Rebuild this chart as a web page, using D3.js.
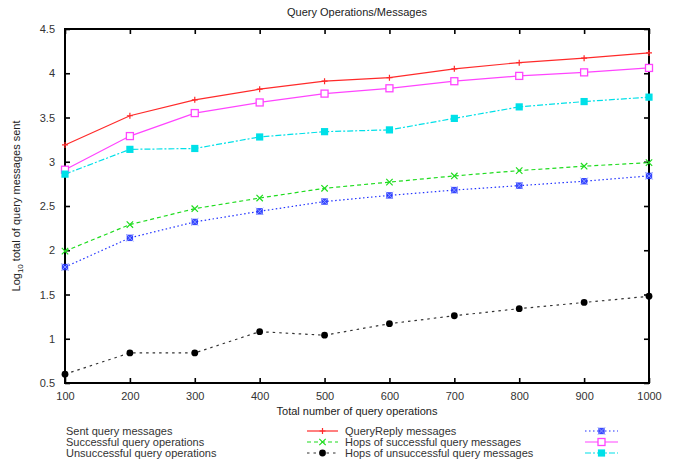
<!DOCTYPE html>
<html>
<head>
<meta charset="utf-8">
<script src="https://cdn.jsdelivr.net/npm/d3@7"></script>
<style>
  html, body { margin: 0; padding: 0; background: #fff; }
  svg { display: block; font-family: "Liberation Sans", Arial, sans-serif; }
</style>
</head>
<body>
<svg id="chart" width="685" height="464"></svg>
<script>
// Number of query operations (x axis)
const operations = [100, 200, 300, 400, 500, 600, 700, 800, 900, 1000];

// log10 of message / operation totals per series
const sentQuery       = [3.19, 3.52, 3.70, 3.82, 3.91, 3.95, 4.05, 4.12, 4.17, 4.23];
const successfulOps   = [1.99, 2.29, 2.47, 2.59, 2.70, 2.77, 2.84, 2.90, 2.95, 2.99];
const unsuccessfulOps = [0.60, 0.84, 0.84, 1.08, 1.04, 1.17, 1.26, 1.34, 1.41, 1.48];
const queryReply      = [1.81, 2.14, 2.32, 2.44, 2.55, 2.62, 2.68, 2.73, 2.78, 2.84];
const hopsSuccessful  = [2.91, 3.29, 3.55, 3.67, 3.77, 3.83, 3.91, 3.97, 4.01, 4.06];
const hopsUnsuccessful= [2.86, 3.14, 3.15, 3.28, 3.34, 3.36, 3.49, 3.62, 3.68, 3.73];

const seriesNames = [
  "Sent query messages",
  "Successful query operations",
  "Unsuccessful query operations",
  "QueryReply messages",
  "Hops of successful query messages",
  "Hops of unsuccessful query messages"
];

const yTicks = [0.5, 1, 1.5, 2, 2.5, 3, 3.5, 4, 4.5];
const xTicks = operations;

const series = [
  { name: seriesNames[0], values: sentQuery,        color: "#ff2a2a", dash: null,          marker: "plus" },
  { name: seriesNames[1], values: successfulOps,    color: "#1fdc1f", dash: "4,3",         marker: "cross" },
  { name: seriesNames[2], values: unsuccessfulOps,  color: "#333333", dash: "2.5,4",       marker: "circle" },
  { name: seriesNames[3], values: queryReply,       color: "#2233ff", dash: "1.5,2.5",     marker: "boxcross" },
  { name: seriesNames[4], values: hopsSuccessful,   color: "#ff44ff", dash: null,          marker: "square" },
  { name: seriesNames[5], values: hopsUnsuccessful, color: "#00e0e8", dash: "6,2,2,2",     marker: "fillsquare" }
];

const svg = d3.select("#chart");
const W = 685, H = 464;
const m = { left: 65, right: 36, top: 29, bottom: 81 };

const x = d3.scaleLinear().domain([100, 1000]).range([m.left, W - m.right]);
const y = d3.scaleLinear().domain([0.5, 4.5]).range([H - m.bottom, m.top]);

// Title
svg.append("text")
  .attr("x", (m.left + W - m.right) / 2).attr("y", 16)
  .attr("text-anchor", "middle").attr("font-size", 11).attr("fill", "#222")
  .text("Query Operations/Messages");

// Axes with inward ticks, mirrored on top and right
const axisStyle = g => {
  g.select(".domain").remove();
  g.selectAll(".tick line").attr("stroke", "#000").attr("stroke-width", 1.6);
  g.selectAll(".tick text").attr("font-size", 11).attr("fill", "#333")
    .attr("font-family", "\"Liberation Sans\", Arial, sans-serif");
};

svg.append("g")
  .attr("transform", `translate(0,${H - m.bottom})`)
  .call(d3.axisBottom(x).tickValues(xTicks).tickSize(-5).tickPadding(9).tickFormat(d3.format("d")))
  .call(axisStyle);

svg.append("g")
  .attr("transform", `translate(0,${m.top})`)
  .call(d3.axisTop(x).tickValues(xTicks).tickSize(-5).tickFormat(""))
  .call(axisStyle);

svg.append("g")
  .attr("transform", `translate(${m.left},0)`)
  .call(d3.axisLeft(y).tickValues(yTicks).tickSize(-5).tickPadding(10).tickFormat(d => String(d)))
  .call(axisStyle);

svg.append("g")
  .attr("transform", `translate(${W - m.right},0)`)
  .call(d3.axisRight(y).tickValues(yTicks).tickSize(-5).tickFormat(""))
  .call(axisStyle);

// Frame
svg.append("rect")
  .attr("x", m.left).attr("y", m.top)
  .attr("width", W - m.right - m.left).attr("height", H - m.bottom - m.top)
  .attr("fill", "none").attr("stroke", "#000").attr("stroke-width", 2);

// Axis titles
svg.append("text")
  .attr("x", (m.left + W - m.right) / 2).attr("y", 415)
  .attr("text-anchor", "middle").attr("font-size", 11).attr("fill", "#222")
  .text("Total number of query operations");

const yLab = svg.append("text")
  .attr("transform", `translate(20,${(m.top + H - m.bottom) / 2}) rotate(-90)`)
  .attr("text-anchor", "middle").attr("font-size", 11).attr("fill", "#222");
yLab.append("tspan").text("Log");
yLab.append("tspan").attr("font-size", 8).attr("dy", 3).text("10");
yLab.append("tspan").attr("dy", -3).text(" total of query messages sent");

// Marker drawing
function drawMarker(g, type, color, cx, cy) {
  if (type === "plus") {
    const s = 3;
    g.append("path").attr("d", `M${cx - s},${cy}H${cx + s}M${cx},${cy - s}V${cy + s}`)
      .attr("stroke", color).attr("stroke-width", 1.2).attr("fill", "none");
  } else if (type === "cross") {
    const s = 3.2;
    g.append("path").attr("d", `M${cx - s},${cy - s}L${cx + s},${cy + s}M${cx - s},${cy + s}L${cx + s},${cy - s}`)
      .attr("stroke", color).attr("stroke-width", 1.2).attr("fill", "none");
  } else if (type === "circle") {
    g.append("circle").attr("cx", cx).attr("cy", cy).attr("r", 3.4).attr("fill", "#000");
  } else if (type === "boxcross") {
    g.append("rect").attr("x", cx - 3.2).attr("y", cy - 3.2).attr("width", 6.4).attr("height", 6.4)
      .attr("fill", color).attr("opacity", 0.9);
    g.append("path").attr("d", `M${cx - 3.6},${cy - 3.6}L${cx + 3.6},${cy + 3.6}M${cx - 3.6},${cy + 3.6}L${cx + 3.6},${cy - 3.6}`)
      .attr("stroke", "#8899ff").attr("stroke-width", 1).attr("fill", "none");
  } else if (type === "square") {
    g.append("rect").attr("x", cx - 3.5).attr("y", cy - 3.5).attr("width", 7).attr("height", 7)
      .attr("fill", "#fff").attr("stroke", color).attr("stroke-width", 1.3);
  } else if (type === "fillsquare") {
    g.append("rect").attr("x", cx - 3.6).attr("y", cy - 3.6).attr("width", 7.2).attr("height", 7.2)
      .attr("fill", color);
  }
}

const line = d3.line().x((d, i) => x(operations[i])).y(d => y(d));

const plot = svg.append("g");
series.forEach(s => {
  plot.append("path")
    .datum(s.values)
    .attr("d", line)
    .attr("fill", "none")
    .attr("stroke", s.color)
    .attr("stroke-width", 1.2)
    .attr("stroke-dasharray", s.dash);
  const mg = plot.append("g");
  s.values.forEach((v, i) => drawMarker(mg, s.marker, s.color, x(operations[i]), y(v)));
});

// Legend: two columns, three rows, text then line sample
const legendRows = [431, 442, 453];
const legendCols = [
  { textX: 66, sampleX0: 307, sampleX1: 338 },
  { textX: 345, sampleX0: 585, sampleX1: 618 }
];
series.forEach((s, i) => {
  const col = legendCols[Math.floor(i / 3)];
  const ry = legendRows[i % 3];
  svg.append("text")
    .attr("x", col.textX).attr("y", ry + 4)
    .attr("font-size", 11).attr("fill", "#333")
    .text(s.name);
  svg.append("line")
    .attr("x1", col.sampleX0).attr("x2", col.sampleX1)
    .attr("y1", ry).attr("y2", ry)
    .attr("stroke", s.color).attr("stroke-width", 1.2)
    .attr("stroke-dasharray", s.dash);
  const lg = svg.append("g");
  drawMarker(lg, s.marker, s.color, (col.sampleX0 + col.sampleX1) / 2, ry);
});
</script>
</body>
</html>
